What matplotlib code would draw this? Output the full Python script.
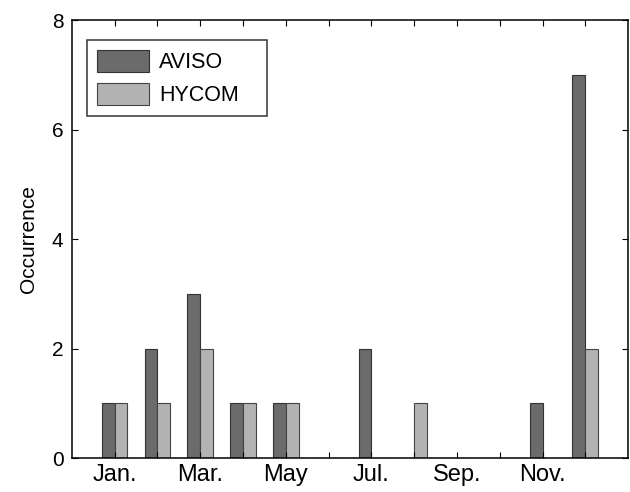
import matplotlib.pyplot as plt
import numpy as np

plt.rcParams['font.family'] = ['Liberation Sans', 'DejaVu Sans']

months = np.arange(1, 13)
month_labels = ['Jan.', '', 'Mar.', '', 'May', '', 'Jul.', '', 'Sep.', '', 'Nov.', '']
aviso = [1, 2, 3, 1, 1, 0, 2, 0, 0, 0, 1, 7]
hycom = [1, 1, 2, 1, 1, 0, 0, 1, 0, 0, 0, 2]

fig = plt.figure(figsize=(6.3, 4.92), dpi=100)
ax = fig.add_axes([0.114, 0.069, 0.883, 0.89])

w = 0.3
ax.bar(months - w/2, aviso, width=w, color='#6b6b6b', edgecolor='#333333', linewidth=0.8, label='AVISO')
ax.bar(months + w/2, hycom, width=w, color='#b3b3b3', edgecolor='#444444', linewidth=0.8, label='HYCOM')

ax.set_xlim(0, 13)
ax.set_ylim(0, 8)
ax.set_xticks(months)
ax.set_xticklabels(month_labels)
ax.set_yticks([0, 2, 4, 6, 8])
ax.tick_params(direction='in', top=True, right=True, length=4)
ax.tick_params(axis='x', labelsize=17, pad=4)
ax.tick_params(axis='y', labelsize=15, pad=6)
for s in ax.spines.values():
    s.set_linewidth(1.1)
ax.set_ylabel('Occurrence', fontsize=15, labelpad=10)

leg = ax.legend(loc='upper left', bbox_to_anchor=(0.027, 0.779, 0.324, 0.175), mode='expand',
                fontsize=15.5, fancybox=False, edgecolor='#333333', framealpha=1,
                handlelength=2.42, handleheight=1.2, borderpad=0.45, labelspacing=0.45,
                handletextpad=0.5, borderaxespad=0)
leg.get_frame().set_linewidth(1.1)

fig.savefig('out.png', dpi=100)
